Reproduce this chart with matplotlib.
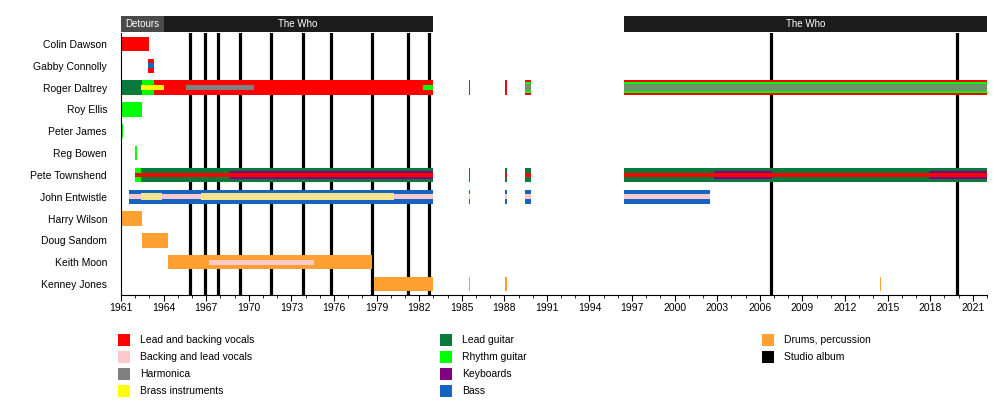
import matplotlib.pyplot as plt
from matplotlib.patches import Rectangle
from matplotlib.ticker import FixedLocator, MultipleLocator

plt.rcParams['font.family'] = ['Liberation Sans', 'DejaVu Sans']

members = ["Colin Dawson", "Gabby Connolly", "Roger Daltrey", "Roy Ellis",
           "Peter James", "Reg Bowen", "Pete Townshend", "John Entwistle",
           "Harry Wilson", "Doug Sandom", "Keith Moon", "Kenney Jones"]

role_keys = ["vox", "bvox", "harm", "brass", "lead", "rhythm", "keys", "bass", "drums", "album"]
role_names = ["Lead and backing vocals", "Backing and lead vocals", "Harmonica",
              "Brass instruments", "Lead guitar", "Rhythm guitar", "Keyboards",
              "Bass", "Drums, percussion", "Studio album"]
role_colors = ["#ff0000", "#ffc8cc", "#808080", "#ffff00", "#0a7a3c",
               "#00ff00", "#800080", "#1565c0", "#ffa030", "#000000"]

albums = [1965.85, 1966.9, 1967.85, 1969.35, 1971.6, 1973.8, 1975.8,
          1978.65, 1981.2, 1982.7, 2006.8, 2019.9]

year_ticks = list(range(1961, 2022, 3))

band_names = ["Detours", "The Who", "The Who"]
band_start = [1961.0, 1964.0, 1996.4]
band_end = [1964.0, 1982.95, 2022.0]

# full-height bars
main_spans = [
    ("Colin Dawson", "vox", 1961.0, 1963.0),
    ("Gabby Connolly", "vox", 1962.9, 1963.35),
    ("Roger Daltrey", "lead", 1961.0, 1962.5),
    ("Roger Daltrey", "rhythm", 1962.5, 1963.3),
    ("Roger Daltrey", "vox", 1963.3, 1982.95),
    ("Roger Daltrey", "vox", 1985.5, 1985.58),
    ("Roger Daltrey", "vox", 1988.05, 1988.2),
    ("Roger Daltrey", "vox", 1989.45, 1989.85),
    ("Roger Daltrey", "vox", 1996.4, 2022.0),
    ("Roy Ellis", "rhythm", 1961.0, 1962.5),
    ("Peter James", "rhythm", 1961.0, 1961.12),
    ("Reg Bowen", "rhythm", 1962.0, 1962.1),
    ("Pete Townshend", "rhythm", 1962.0, 1962.4),
    ("Pete Townshend", "lead", 1962.4, 1982.95),
    ("Pete Townshend", "lead", 1985.5, 1985.58),
    ("Pete Townshend", "lead", 1988.05, 1988.2),
    ("Pete Townshend", "lead", 1989.45, 1989.85),
    ("Pete Townshend", "lead", 1996.4, 2022.0),
    ("John Entwistle", "bass", 1961.55, 1982.95),
    ("John Entwistle", "bass", 1985.5, 1985.58),
    ("John Entwistle", "bass", 1988.05, 1988.2),
    ("John Entwistle", "bass", 1989.45, 1989.85),
    ("John Entwistle", "bass", 1996.4, 2002.5),
    ("Harry Wilson", "drums", 1961.0, 1962.5),
    ("Doug Sandom", "drums", 1962.5, 1964.3),
    ("Keith Moon", "drums", 1964.3, 1978.7),
    ("Kenney Jones", "drums", 1978.85, 1982.95),
    ("Kenney Jones", "drums", 1985.5, 1985.58),
    ("Kenney Jones", "drums", 1988.05, 1988.2),
    ("Kenney Jones", "drums", 2014.45, 2014.53),
]

# wide inner stripes
wide_spans = [
    ("Roger Daltrey", "rhythm", 1989.45, 1989.85),
    ("Roger Daltrey", "rhythm", 1996.4, 2022.0),
]

# medium inner stripes
mid_spans = [
    ("Roger Daltrey", "harm", 1989.45, 1989.85),
    ("Roger Daltrey", "harm", 1996.4, 2022.0),
    ("Pete Townshend", "keys", 1968.7, 1982.95),
    ("Pete Townshend", "keys", 2002.8, 2006.85),
    ("Pete Townshend", "keys", 2017.9, 2022.0),
    ("John Entwistle", "brass", 1962.4, 1963.9),
    ("John Entwistle", "brass", 1966.6, 1980.2),
]

# thin inner stripes
thin_spans = [
    ("Gabby Connolly", "bass", 1962.9, 1963.35),
    ("Roger Daltrey", "brass", 1962.4, 1964.0),
    ("Roger Daltrey", "harm", 1965.6, 1970.4),
    ("Roger Daltrey", "rhythm", 1982.3, 1982.95),
    ("Pete Townshend", "vox", 1962.0, 1982.95),
    ("Pete Townshend", "vox", 1985.5, 1985.58),
    ("Pete Townshend", "vox", 1988.05, 1988.2),
    ("Pete Townshend", "vox", 1989.45, 1989.85),
    ("Pete Townshend", "vox", 1996.4, 2022.0),
    ("John Entwistle", "bvox", 1961.55, 1982.95),
    ("John Entwistle", "bvox", 1985.5, 1985.58),
    ("John Entwistle", "bvox", 1988.05, 1988.2),
    ("John Entwistle", "bvox", 1989.45, 1989.85),
    ("John Entwistle", "bvox", 1996.4, 2002.5),
    ("Keith Moon", "bvox", 1967.2, 1974.6),
]

color_of = dict(zip(role_keys, role_colors))
row_of = {m: i for i, m in enumerate(members)}

W, H = 1001, 411
fig = plt.figure(figsize=(W / 100, H / 100), dpi=100)
ax = fig.add_axes([121 / W, 1 - 295 / H, 866 / W, 262 / H])
hax = fig.add_axes([121 / W, 1 - 32 / H, 866 / W, 16 / H], sharex=ax)

for a in albums:
    ax.axvline(a, color="black", lw=2.3, zorder=1)

layers = [(main_spans, 0.66, 2), (wide_spans, 0.48, 3),
          (mid_spans, 0.34, 4), (thin_spans, 0.22, 5)]
for spans, h, z in layers:
    for m, role, s, e in spans:
        col = color_of[role]
        alpha = 1.0
        zz = z
        if role == "brass" and m == "John Entwistle":
            # pale yellow over the pink stripe
            col = "#f4e58c"
            zz = 6
        if role == "harm" and s > 1985:
            alpha = 0.85
        ax.barh(row_of[m], e - s, left=s, height=h, color=col,
                alpha=alpha, lw=0, zorder=zz)

ax.set_xlim(1961, 2022)
ax.set_ylim(11.5, -0.5)
ax.set_yticks(range(len(members)))
ax.set_yticklabels(members, fontsize=7.5)
ax.tick_params(axis="y", length=0, pad=10)
ax.xaxis.set_major_locator(FixedLocator(year_ticks))
ax.xaxis.set_minor_locator(MultipleLocator(1))
ax.tick_params(axis="x", which="major", length=4, labelsize=7.5, pad=2)
ax.tick_params(axis="x", which="minor", length=2)
for sp in ["top", "right"]:
    ax.spines[sp].set_visible(False)

# band header
band_colors = ["#4a4a4a", "#1c1c1c", "#1c1c1c"]
for name, s, e, c in zip(band_names, band_start, band_end, band_colors):
    hax.barh(0, e - s, left=s, height=1, color=c, lw=0)
    hax.text((s + e) / 2, 0, name, color="white", fontsize=7,
             ha="center", va="center")
hax.set_ylim(-0.5, 0.5)
hax.axis("off")

# legend
col_x = [118, 440, 762]
row_y = [340, 357, 374, 391]
for i, (name, c) in enumerate(zip(role_names, role_colors)):
    x = col_x[i // 4]
    y = row_y[i % 4]
    fig.add_artist(Rectangle((x / W, 1 - (y + 6) / H), 12 / W, 12 / H,
                             transform=fig.transFigure, color=c, lw=0))
    fig.text((x + 22) / W, 1 - y / H, name, fontsize=7.5, va="center")

fig.savefig("out.png", dpi=100)
